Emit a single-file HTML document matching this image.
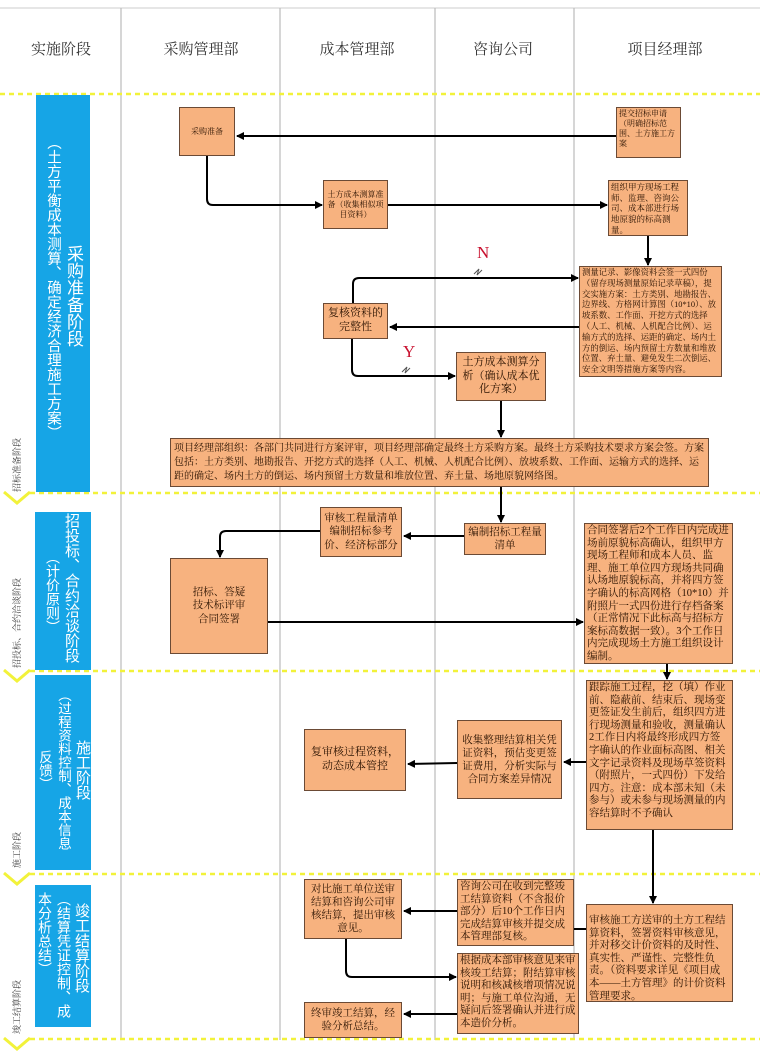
<!DOCTYPE html>
<html><head><meta charset="utf-8">
<style>
*{margin:0;padding:0;box-sizing:border-box}
body{width:760px;height:1053px;background:#fff;position:relative;overflow:hidden;font-family:"Liberation Serif","Noto Serif CJK SC",serif;color:#2a1200}
.b{position:absolute;background:#f7b27f;border:1.5px solid #6b4a35;line-height:1.25;padding:1px 2px;overflow:hidden}
.c{text-align:center;display:flex;align-items:center;justify-content:center}
.h{position:absolute;top:38px;font-size:15px;color:#333;transform:translateX(-50%);white-space:nowrap}
.bar{position:absolute;background:#16a5e6}
.v{position:absolute;writing-mode:vertical-rl;color:#fff;white-space:nowrap;font-family:"Liberation Sans","Noto Sans CJK SC",sans-serif}
.s{position:absolute;font-size:9px;color:#444;transform:rotate(-90deg);transform-origin:left top;white-space:nowrap}
</style></head><body>
<svg width="760" height="1053" style="position:absolute;left:0;top:0">
<defs><marker id="a" markerWidth="8" markerHeight="8" refX="7" refY="4" orient="auto" markerUnits="userSpaceOnUse"><path d="M0,0L8,4L0,8z" fill="#000"/></marker></defs>
<line x1="0" y1="8" x2="760" y2="8" stroke="#ccc"/>
<g stroke="#bbb" stroke-width="1.2">
<line x1="121" y1="8" x2="121" y2="1040"/><line x1="280" y1="8" x2="280" y2="1040"/><line x1="435" y1="8" x2="435" y2="1040"/><line x1="574" y1="8" x2="574" y2="1040"/>
</g>
<g stroke="#f2f23a" stroke-width="2.5" stroke-dasharray="5,4">
<line x1="0" y1="94" x2="760" y2="94"/><line x1="30" y1="493" x2="760" y2="493"/><line x1="30" y1="671" x2="760" y2="671"/><line x1="30" y1="874" x2="760" y2="874"/><line x1="30" y1="1039" x2="760" y2="1039"/>
</g>
<g fill="none" stroke="#f2f23a" stroke-width="3">
<path d="M4,492L17,503L30,492"/><path d="M4,670L17,681L30,670"/><path d="M4,873L17,884L30,873"/><path d="M4,1038L17,1049L30,1038"/>
</g>
<g fill="none" stroke="#000" stroke-width="2" marker-end="url(#a)">
<line x1="616" y1="136" x2="237" y2="136"/>
<path d="M207,156V199q0,6 6,6H322"/>
<line x1="388" y1="205" x2="607" y2="205"/>
<line x1="648" y1="236" x2="648" y2="265"/>
<path d="M353,303V284q0,-6 6,-6H578"/>
<line x1="579" y1="327" x2="390" y2="327"/>
<path d="M352,339V370q0,6 6,6H455"/>
<line x1="501" y1="401" x2="501" y2="437"/>
<line x1="501" y1="487" x2="501" y2="522"/>
<line x1="464" y1="536" x2="404" y2="536"/>
<path d="M320,531H226q-6,0 -6,6V557"/>
<line x1="268" y1="622" x2="583" y2="622"/>
<line x1="667" y1="664" x2="667" y2="679"/>
<line x1="586" y1="762" x2="564" y2="762"/>
<line x1="457" y1="763" x2="408" y2="764"/>
<line x1="653" y1="830" x2="653" y2="903"/>
<line x1="586" y1="929" x2="560" y2="929"/>
<line x1="457" y1="911" x2="404" y2="911"/>
<path d="M346,939V971q0,6 6,6H456"/>
<line x1="457" y1="1014" x2="404" y2="1014"/>
</g>
<g stroke="#555" fill="none"><path d="M474,274l5,-5 -2,6 5,-5"/><path d="M402,372l5,-5 -2,6 5,-5"/></g>
<text x="477" y="258" fill="#c8102e" font-size="17" font-family="Liberation Serif">N</text>
<text x="403" y="357" fill="#c8102e" font-size="17" font-family="Liberation Serif">Y</text>
</svg>

<div class="h" style="left:61px">实施阶段</div>
<div class="h" style="left:201px">采购管理部</div>
<div class="h" style="left:357px">成本管理部</div>
<div class="h" style="left:503px">咨询公司</div>
<div class="h" style="left:665px">项目经理部</div>

<div class="bar" style="left:36px;top:95px;width:54px;height:397px"></div>
<div class="v" style="left:64px;top:245px;font-size:17px;line-height:18px">采购准备阶段</div>
<div class="v" style="left:45px;top:135px;font-size:14.5px;line-height:16px">（土方平衡成本测算、确定经济合理施工方案）</div>
<div class="bar" style="left:35px;top:512px;width:56px;height:158px"></div>
<div class="v" style="left:63px;top:513px;font-size:15px;line-height:17px">招投标、合约洽谈阶段</div>
<div class="v" style="left:45px;top:550px;font-size:14px;line-height:16px">（计价原则）</div>
<div class="bar" style="left:35px;top:675px;width:56px;height:195px"></div>
<div class="v" style="left:74px;top:740px;font-size:15px;line-height:17px">施工阶段</div>
<div class="v" style="left:56px;top:688px;font-size:13.5px;line-height:15px">（过程资料控制、成本信息</div>
<div class="v" style="left:37px;top:750px;font-size:13.5px;line-height:15px">反馈）</div>
<div class="bar" style="left:35px;top:885px;width:56px;height:142px"></div>
<div class="v" style="left:73px;top:903px;font-size:15px;line-height:17px">竣工结算阶段</div>
<div class="v" style="left:56px;top:892px;font-size:14px;line-height:15px">（结算凭证控制、成</div>
<div class="v" style="left:37px;top:892px;font-size:14px;line-height:15px">本分析总结）</div>

<div class="s" style="left:10px;top:492px">招标准备阶段</div>
<div class="s" style="left:10px;top:668px">招投标、合约洽谈阶段</div>
<div class="s" style="left:10px;top:868px">施工阶段</div>
<div class="s" style="left:10px;top:1034px">竣工结算阶段</div>

<div class="b c" style="left:179px;top:107px;width:56px;height:49px;font-size:8px">采购准备</div>
<div class="b" style="left:616px;top:107px;width:65px;height:51px;font-size:8px">提交招标申请（明确招标范围、土方施工方案</div>
<div class="b c" style="left:323px;top:180px;width:65px;height:49px;font-size:8px">土方成本测算准备（收集相似项目资料）</div>
<div class="b" style="left:608px;top:180px;width:80px;height:56px;font-size:8.5px">组织甲方现场工程师、监理、咨询公司、成本部进行场地原貌的标高测量。</div>
<div class="b" style="left:579px;top:266px;width:143px;height:111px;font-size:8.4px;line-height:10.8px">测量记录、影像资料会签一式四份（留存现场测量原始记录草稿），提交实施方案：土方类别、地勘报告、边界线、方格网计算图（10*10）、放坡系数、工作面、开挖方式的选择（人工、机械、人机配合比例）、运输方式的选择、运距的确定、场内土方的倒运、场内预留土方数量和堆放位置、弃土量、避免发生二次倒运、安全文明等措施方案等内容。</div>
<div class="b c" style="left:323px;top:303px;width:65px;height:36px;font-size:11px">复核资料的完整性</div>
<div class="b c" style="left:456px;top:352px;width:90px;height:49px;font-size:11px">土方成本测算分析（确认成本优化方案）</div>
<div class="b" style="left:170px;top:438px;width:539px;height:49px;font-size:10px;line-height:14px;padding:3px 3px">项目经理部组织：各部门共同进行方案评审，项目经理部确定最终土方采购方案。最终土方采购技术要求方案会签。方案包括：土方类别、地勘报告、开挖方式的选择（人工、机械、人机配合比例）、放坡系数、工作面、运输方式的选择、运距的确定、场内土方的倒运、场内预留土方数量和堆放位置、弃土量、场地原貌网络图。</div>

<div class="b c" style="left:320px;top:507px;width:82px;height:50px;font-size:10.5px">审核工程量清单编制招标参考价、经济标部分</div>
<div class="b c" style="left:464px;top:523px;width:82px;height:32px;font-size:10.5px">编制招标工程量清单</div>
<div class="b c" style="left:170px;top:558px;width:98px;height:96px;font-size:10.5px">招标、答疑<br>技术标评审<br>合同签署</div>
<div class="b" style="left:584px;top:523px;width:149px;height:141px;font-size:10.5px;line-height:12.6px">合同签署后2个工作日内完成进场前原貌标高确认，组织甲方现场工程师和成本人员、监理、施工单位四方现场共同确认场地原貌标高，并将四方签字确认的标高网格（10*10）并附照片一式四份进行存档备案（正常情况下此标高与招标方案标高数据一致）。3个工作日内完成现场土方施工组织设计编制。</div>

<div class="b" style="left:586px;top:680px;width:147px;height:150px;font-size:10.5px;line-height:12.6px">跟踪施工过程，挖（填）作业前、隐蔽前、结束后、现场变更签证发生前后，组织四方进行现场测量和验收，测量确认2工作日内将最终形成四方签字确认的作业面标高图、相关文字记录资料及现场草签资料（附照片，一式四份）下发给四方。注意：成本部未知（未参与）或未参与现场测量的内容结算时不予确认</div>
<div class="b c" style="left:457px;top:720px;width:105px;height:79px;font-size:10.5px;line-height:13px">收集整理结算相关凭证资料，预估变更签证费用，分析实际与合同方案差异情况</div>
<div class="b c" style="left:304px;top:729px;width:102px;height:62px;font-size:11px">复审核过程资料，动态成本管控</div>

<div class="b c" style="left:304px;top:879px;width:98px;height:60px;font-size:10.5px;line-height:13px">对比施工单位送审结算和咨询公司审核结算，提出审核意见。</div>
<div class="b" style="left:457px;top:879px;width:117px;height:67px;font-size:10.5px;line-height:12.6px">咨询公司在收到完整竣工结算资料（不含报价部分）后10个工作日内完成结算审核并提交成本管理部复核。</div>
<div class="b" style="left:586px;top:904px;width:147px;height:98px;font-size:10.5px;line-height:12.6px;padding-top:10px">审核施工方送审的土方工程结算资料，签署资料审核意见，并对移交计价资料的及时性、真实性、严谨性、完整性负责。（资料要求详见《项目成本——土方管理》的计价资料管理要求。</div>
<div class="b" style="left:457px;top:953px;width:122px;height:81px;font-size:10.5px;line-height:12.6px">根据成本部审核意见来审核竣工结算；附结算审核说明和核减核增项情况说明；与施工单位沟通，无疑问后签署确认并进行成本造价分析。</div>
<div class="b c" style="left:304px;top:1002px;width:98px;height:36px;font-size:10.5px">终审竣工结算，经验分析总结。</div>
</body></html>
